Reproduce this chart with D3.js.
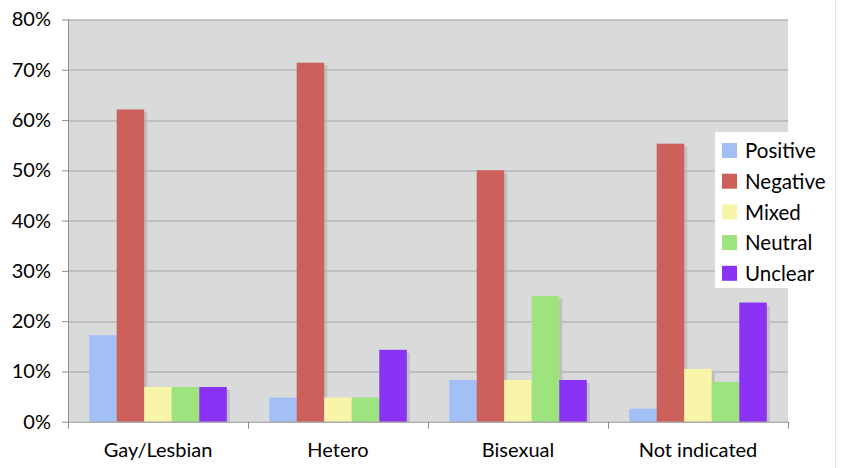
<!DOCTYPE html>
<html>
<head>
<meta charset="utf-8">
<script src="https://cdn.jsdelivr.net/npm/d3@7"></script>
<style>
  body { margin: 0; background: #fff; }
  text { font-family: "Lato", "Open Sans", sans-serif; fill: #000; }
</style>
</head>
<body>
<script>
// Data (percent of responses)
var categories = ["Gay/Lesbian", "Hetero", "Bisexual", "Not indicated"];
var seriesNames = ["Positive", "Negative", "Mixed", "Neutral", "Unclear"];
var positive = [17.2, 4.8, 8.3, 2.6];
var negative = [62.1, 71.4, 50.0, 55.3];
var mixed    = [6.9, 4.8, 8.3, 10.5];
var neutral  = [6.9, 4.8, 25.0, 7.9];
var unclear  = [6.9, 14.3, 8.3, 23.7];
var yTicks = [0, 10, 20, 30, 40, 50, 60, 70, 80];

var seriesValues = [positive, negative, mixed, neutral, unclear];
var colors = ["#a2bff6", "#cd605a", "#f8f5a8", "#9de47e", "#8a33f6"];

var svgWidth = 841;
var svgHeight = 468;
var margin = { top: 19.5, right: 53, bottom: 46.3, left: 68 };
var chartWidth = svgWidth - margin.left - margin.right;
var chartHeight = svgHeight - margin.top - margin.bottom;

var svg = d3.select("body")
  .append("svg")
  .attr("width", svgWidth)
  .attr("height", svgHeight);

// faint page border on the right
svg.append("line")
  .attr("x1", 835.5).attr("x2", 835.5)
  .attr("y1", 0).attr("y2", svgHeight)
  .attr("stroke", "#e4e4e4");

var chartGroup = svg.append("g")
  .attr("transform", `translate(${margin.left}, ${margin.top})`);

var xScale = d3.scaleBand()
  .domain(categories)
  .range([0, chartWidth]);

var xInner = d3.scaleBand()
  .domain(seriesNames)
  .range([0, xScale.bandwidth()])
  .paddingOuter(0.77);

var yScale = d3.scaleLinear()
  .domain([0, 80])
  .range([chartHeight, 0]);

// plot background
chartGroup.append("rect")
  .attr("width", chartWidth)
  .attr("height", chartHeight)
  .attr("fill", "#d9dada");

// gridlines
chartGroup.append("g")
  .selectAll("line")
  .data(yTicks.filter(d => d > 0))
  .enter()
  .append("line")
  .attr("x1", 0)
  .attr("x2", chartWidth)
  .attr("y1", d => Math.round(yScale(d)) + 0.5)
  .attr("y2", d => Math.round(yScale(d)) + 0.5)
  .attr("stroke", "#a3a3a3")
  .attr("stroke-width", 1.2);

// bars
var groups = chartGroup.selectAll(".group")
  .data(categories)
  .enter()
  .append("g")
  .attr("class", "group")
  .attr("transform", d => `translate(${xScale(d)}, 0)`);

var barData = function(cat, i) {
  return seriesNames.map(function(s, j) {
    return { series: s, value: seriesValues[j][i], color: colors[j] };
  });
};

// shadows
groups.selectAll(".shadow")
  .data(barData)
  .enter()
  .append("rect")
  .attr("class", "shadow")
  .attr("x", d => xInner(d.series) + 3)
  .attr("y", d => yScale(d.value) + 3)
  .attr("width", xInner.bandwidth())
  .attr("height", d => chartHeight - yScale(d.value) - 3)
  .attr("fill", "#b9b9b9")
  .attr("opacity", 0.8);

groups.selectAll(".bar")
  .data(barData)
  .enter()
  .append("rect")
  .attr("class", "bar")
  .attr("x", d => xInner(d.series))
  .attr("y", d => yScale(d.value))
  .attr("width", xInner.bandwidth())
  .attr("height", d => chartHeight - yScale(d.value))
  .attr("fill", d => d.color);

// axes
var leftAxis = d3.axisLeft(yScale)
  .tickValues(yTicks)
  .tickFormat(d => d + "%")
  .tickSize(6)
  .tickPadding(11);

var yAxisG = chartGroup.append("g").call(leftAxis);
yAxisG.select(".domain").attr("stroke", "#8c8c8c").attr("d", `M0.5,0V${chartHeight}`);
yAxisG.selectAll(".tick line").attr("stroke", "#8c8c8c");
yAxisG.selectAll("text")
  .attr("font-size", 20)
  .attr("font-family", "Lato, sans-serif")
  .attr("fill", "#000");

var bottomAxis = d3.axisBottom(xScale)
  .tickSize(0)
  .tickPadding(21);

var xAxisG = chartGroup.append("g")
  .attr("transform", `translate(0, ${chartHeight})`)
  .call(bottomAxis);
xAxisG.select(".domain").attr("stroke", "#8c8c8c");
xAxisG.selectAll("text")
  .attr("font-size", 20)
  .attr("font-family", "Lato, sans-serif")
  .attr("fill", "#000");

// category separator ticks
chartGroup.append("g")
  .selectAll("line")
  .data(d3.range(categories.length + 1))
  .enter()
  .append("line")
  .attr("x1", i => Math.round(i * xScale.step()) + 0.5)
  .attr("x2", i => Math.round(i * xScale.step()) + 0.5)
  .attr("y1", chartHeight)
  .attr("y2", chartHeight + 7)
  .attr("stroke", "#8c8c8c");

// legend
var legend = svg.append("g")
  .attr("transform", "translate(715, 132)");

legend.append("rect")
  .attr("width", 114)
  .attr("height", 156)
  .attr("fill", "#fff");

var legendItems = legend.selectAll(".item")
  .data(seriesNames)
  .enter()
  .append("g")
  .attr("class", "item")
  .attr("transform", (d, i) => `translate(7, ${11 + i * 30.7})`);

legendItems.append("rect")
  .attr("width", 15)
  .attr("height", 15)
  .attr("fill", (d, i) => colors[i]);

legendItems.append("text")
  .attr("x", 23)
  .attr("y", 8)
  .attr("dy", "0.36em")
  .attr("font-size", 20.5)
  .text(d => d);
</script>
</body>
</html>
